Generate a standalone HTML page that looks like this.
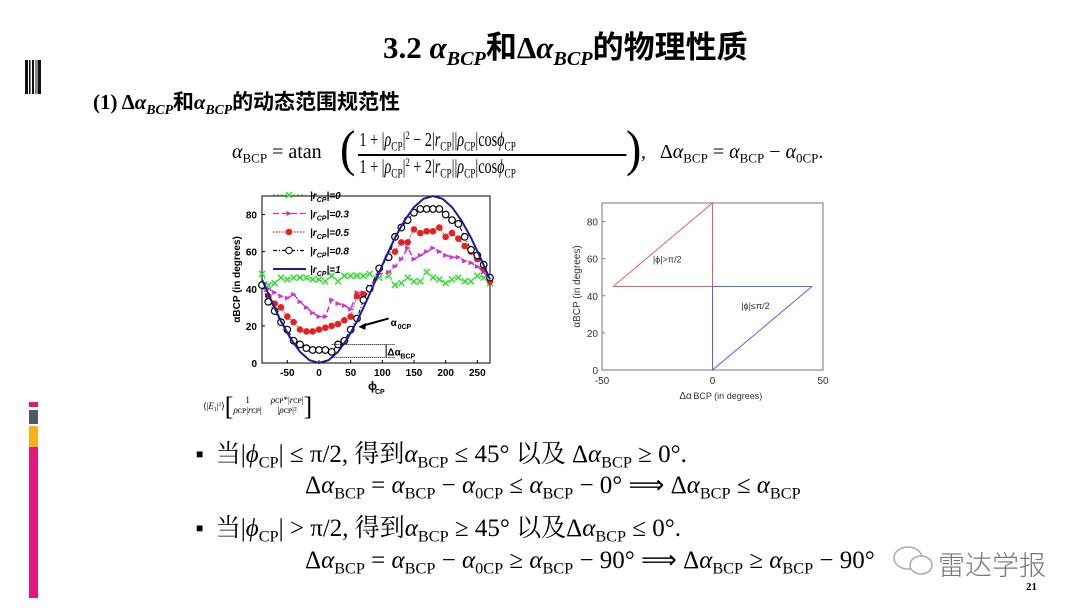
<!DOCTYPE html>
<html><head><meta charset="utf-8">
<style>
body{margin:0;background:#fff;}
#slide{position:relative;width:1080px;height:608px;overflow:hidden;background:#fff;font-family:"Liberation Serif","Noto Serif CJK SC",serif;color:#000;}
.t{position:absolute;white-space:nowrap;}
i{font-style:italic;}
sub{font-size:65%;vertical-align:-0.35em;}
sup{font-size:60%;vertical-align:0.6em;}
</style></head>
<body>
<div id="slide">
<svg style="position:absolute;left:25px;top:60px" width="17" height="34">
<rect x="0" y="0" width="3" height="34" fill="#111"/><rect x="4" y="0" width="1.5" height="34" fill="#111"/><rect x="7" y="0" width="2" height="34" fill="#111"/><rect x="10.5" y="0" width="1" height="34" fill="#111"/><rect x="12.5" y="0" width="3.5" height="34" fill="#111"/>
</svg>
<div style="position:absolute;left:29px;top:402px;width:9px;height:196px;">
<div style="height:5px;background:#e0197a"></div><div style="height:3px"></div><div style="height:14px;background:#4b5a66"></div><div style="height:2px"></div><div style="height:21px;background:#f0b417"></div><div style="height:151px;background:#e0197a"></div>
</div>

<div class="t" style="left:383px;top:22px;font-size:31px;font-weight:bold;font-family:'Liberation Serif','Noto Sans CJK SC',serif;">3.2 <i>α<sub>BCP</sub></i>和Δ<i>α<sub>BCP</sub></i>的物理性质</div>
<div class="t" style="left:93px;top:86px;font-size:21px;font-weight:bold;font-family:'Liberation Serif','Noto Sans CJK SC',serif;">(1) Δ<i>α<sub>BCP</sub></i>和<i>α<sub>BCP</sub></i>的动态范围规范性</div>

<div class="t" style="left:232px;top:128px;font-size:20px;height:50px;">
<span style="position:absolute;left:0;top:13px"><i>α</i><sub>BCP</sub> = atan</span>
<span style="position:absolute;left:108px;top:-6px;font-size:46px;transform:scaleY(1.1)">(</span>
<div style="position:absolute;left:126px;top:0;width:378px;height:50px;transform:scaleX(0.71);transform-origin:0 0;">
<span style="position:absolute;left:2px;top:0px">1 + |<i>ρ</i><sub>CP</sub>|<sup>2</sup> − 2|<i>r</i><sub>CP</sub>||<i>ρ</i><sub>CP</sub>|cos<i>ϕ</i><sub>CP</sub></span>
<span style="position:absolute;left:0;top:26px;width:378px;height:2px;background:#000"></span>
<span style="position:absolute;left:2px;top:27px">1 + |<i>ρ</i><sub>CP</sub>|<sup>2</sup> + 2|<i>r</i><sub>CP</sub>||<i>ρ</i><sub>CP</sub>|cos<i>ϕ</i><sub>CP</sub></span>
</div>
<span style="position:absolute;left:394px;top:-6px;font-size:46px;transform:scaleY(1.1)">)</span>
<span style="position:absolute;left:409px;top:13px">,&nbsp;&nbsp; Δ<i>α</i><sub>BCP</sub> = <i>α</i><sub>BCP</sub> − <i>α</i><sub>0CP</sub>.</span>
</div>

<svg id="charts" style="position:absolute;left:0;top:0" width="1080" height="608" font-family="Liberation Sans, sans-serif"></svg>

<div class="t" style="left:203px;top:392px;font-size:9px;">⟨|<i>E</i><sub>1</sub>|<sup>2</sup>⟩<span style="font-size:26px;vertical-align:-6px">[</span><span style="display:inline-block;text-align:center;vertical-align:-4px;line-height:10px">1<br><i>ρ</i>ᴄᴘ|<i>r</i>ᴄᴘ|</span>&nbsp;&nbsp;&nbsp;&nbsp;<span style="display:inline-block;text-align:center;vertical-align:-4px;line-height:10px"><i>ρ</i>ᴄᴘ*|<i>r</i>ᴄᴘ|<br>|<i>ρ</i>ᴄᴘ|²</span><span style="font-size:26px;vertical-align:-6px">]</span></div>

<div class="t" style="left:196px;top:434px;font-size:25px;font-family:'Liberation Serif','Noto Serif CJK SC',serif;"><span style="font-size:12px;vertical-align:4px">■</span>&nbsp; 当|<i>ϕ</i><sub>CP</sub>| ≤ π/2, 得到<i>α</i><sub>BCP</sub> ≤ 45° 以及 Δ<i>α</i><sub>BCP</sub> ≥ 0°.</div>
<div class="t" style="left:305px;top:470px;font-size:25px;">Δ<i>α</i><sub>BCP</sub> = <i>α</i><sub>BCP</sub> − <i>α</i><sub>0CP</sub> ≤ <i>α</i><sub>BCP</sub> − 0° ⟹ Δ<i>α</i><sub>BCP</sub> ≤ <i>α</i><sub>BCP</sub></div>
<div class="t" style="left:196px;top:508px;font-size:25px;font-family:'Liberation Serif','Noto Serif CJK SC',serif;"><span style="font-size:12px;vertical-align:4px">■</span>&nbsp; 当|<i>ϕ</i><sub>CP</sub>| &gt; π/2, 得到<i>α</i><sub>BCP</sub> ≥ 45° 以及Δ<i>α</i><sub>BCP</sub> ≤ 0°.</div>
<div class="t" style="left:305px;top:545px;font-size:25px;">Δ<i>α</i><sub>BCP</sub> = <i>α</i><sub>BCP</sub> − <i>α</i><sub>0CP</sub> ≥ <i>α</i><sub>BCP</sub> − 90° ⟹ Δ<i>α</i><sub>BCP</sub> ≥ <i>α</i><sub>BCP</sub> − 90°</div>

<svg style="position:absolute;left:892px;top:545px" width="44" height="32">
<ellipse cx="16" cy="13" rx="14" ry="11" fill="none" stroke="#aaa" stroke-width="1.5"/>
<ellipse cx="29" cy="20" rx="11" ry="9" fill="#fff" stroke="#aaa" stroke-width="1.5"/>
</svg>
<div class="t" style="left:938px;top:544px;font-size:27px;color:#777;font-family:'Noto Sans CJK SC',sans-serif;font-weight:300;">雷达学报</div>
<div class="t" style="left:1026px;top:581px;font-size:11px;font-weight:bold;">21</div>
</div>

<script>
const phiX=[-90,-80,-70,-60,-50,-40,-30,-20,-10,0,10,20,30,40,50,60,70,80,95,110,120,130,140,150,160,170,180,190,200,210,220,230,240,250,260,270];
const r0=[48,42,43,46,45,46,46,46,45,45,44,47,44,47,47,47,47,48,46,47,42,43,46,44,44,49,46,45,43,45,46,44,44,47,46,43];
const r03=[42,40,38,36,35,37,33,30,27,25,25,34,32,31,29,38,38,41,48,49,52,56,62,56,58,60,62,60,58,57,57,55,54,52,49,45];
const r05=[42,36,32,30,25,22,18,17,17,18,19,20,21,23,25,36,37,40,51,57,60,65,65,72,70,71,71,73,68,70,67,63,60,56,51,44];
const r08=[42,33,28,22,18,12,10,8,7,7,7,6,10,12,18,24,34,40,51,57,68,73,77,81,83,83,83,83,80,77,75,68,61,58,53,46];
const r1X=[-90,-75,-60,-45,-30,-15,0,15,30,45,60,75,90,105,120,135,150,165,180,195,210,225,240,255,270];
const r1=[45,33.4,22.5,13.2,6,1.5,0,1.5,6,13.2,22.5,33.4,45,56.6,67.5,76.8,84,88.5,90,88.5,84,76.8,67.5,56.6,45];
const leftXTicks=[-50,0,50,100,150,200,250];
const leftYTicks=[0,20,40,60,80];
const legendLabels=["=0","=0.3","=0.5","=0.8","=1"];
const rightXTicks=[-50,0,50];
const rightYTicks=[0,20,40,60,80];
const redX=[-45,0,0,-45];const redY=[45,90,45,45];
const blueX=[45,0,0,45];const blueY=[45,0,45,45];

const NS="http://www.w3.org/2000/svg";
const svg=document.getElementById('charts');
function mk(tag,attrs,parent){const e=document.createElementNS(NS,tag);for(const k in attrs)e.setAttribute(k,attrs[k]);(parent||svg).appendChild(e);return e;}
function txt(s,x,y,attrs,parent){const e=mk('text',Object.assign({x:x,y:y},attrs),parent);e.textContent=s;return e;}

// left chart
const L={x0:262,x1:490,y0:363,y1:196};
const lx=v=>L.x0+(v+90)/360*(L.x1-L.x0);
const ly=v=>L.y0-v/90*(L.y0-L.y1);
const gl=mk('g',{});


mk('rect',{x:L.x0,y:L.y1,width:L.x1-L.x0,height:L.y0-L.y1,fill:'none',stroke:'#000','stroke-width':1},gl);
leftXTicks.forEach(t=>{mk('line',{x1:lx(t),x2:lx(t),y1:L.y0,y2:L.y0-3,stroke:'#000'},gl);const e=txt(t,lx(t),L.y0+13,{'font-size':10,'font-weight':'bold','text-anchor':'middle'},gl);});
leftYTicks.forEach(t=>{mk('line',{x1:L.x0,x2:L.x0+3,y1:ly(t),y2:ly(t),stroke:'#000'},gl);const e=txt(t,L.x0-5,ly(t)+4,{'font-size':10,'font-weight':'bold','text-anchor':'end'},gl);});
const xt=txt('ϕ',lx(90)-8,L.y0+27,{'font-size':12,'font-weight':'bold'},gl);

txt('CP',lx(90)-1,L.y0+31,{'font-size':7,'font-weight':'bold'},gl);
const yt=txt('αBCP (in degrees)',0,0,{'font-size':10,'font-weight':'bold','text-anchor':'middle',transform:`translate(${L.x0-22},${ly(45)}) rotate(-90)`},gl);


function poly(xs,ys,style,name){const p=mk('polyline',Object.assign({points:xs.map((v,i)=>lx(v)+','+ly(ys[i])).join(' '),fill:'none'},style),gl);return p;}
function markers(xs,ys,type,color,name){const g=mk('g',{},gl);xs.forEach((v,i)=>{const x=lx(v),y=ly(ys[i]);
 if(type==='x'){mk('path',{d:`M${x-3},${y-3}L${x+3},${y+3}M${x-3},${y+3}L${x+3},${y-3}`,stroke:color,'stroke-width':1.5},g);}
 else if(type==='tri'){mk('path',{d:`M${x+3},${y}L${x-2.5},${y-2.5}L${x-2.5},${y+2.5}Z`,fill:color},g);}
 else if(type==='dot'){mk('circle',{cx:x,cy:y,r:3.3,fill:color},g);}
 else {mk('circle',{cx:x,cy:y,r:3.3,fill:'#fff',stroke:'#000','stroke-width':1.2},g);}});}
poly(phiX,r0,{stroke:'#33dd33','stroke-width':1,'stroke-dasharray':'2,2'},'series-r0-line');markers(phiX,r0,'x','#33dd33','series-r0-markers');
poly(phiX,r03,{stroke:'#cc33cc','stroke-width':1.5,'stroke-dasharray':'6,3'},'series-r03-line');markers(phiX,r03,'tri','#cc33cc','series-r03-markers');
poly(phiX,r05,{stroke:'#e02020','stroke-width':1,'stroke-dasharray':'1.5,1.5'},'series-r05-line');markers(phiX,r05,'dot','#e82020','series-r05-markers');
poly(phiX,r08,{stroke:'#000','stroke-width':1,'stroke-dasharray':'4,2,1,2'},'series-r08-line');markers(phiX,r08,'o','#000','series-r08-markers');
poly(r1X,r1,{stroke:'#1a1aa0','stroke-width':2},'series-r1-line');

// legend
const lg=mk('g',{},gl);
const legTypes=[['x','#33dd33','2,2'],['tri','#cc33cc','6,3'],['dot','#e82020','1.5,1.5'],['o','#000','4,2,1,2'],['line','#1a1aa0','']];
legendLabels.forEach((lab,i)=>{const y=195+i*18.5,x=273;const [tp,c,d]=legTypes[i];
 const ge=mk('g',{},lg);
 mk('line',{x1:x,x2:x+33,y1:y,y2:y,stroke:c,'stroke-width':tp==='line'?2:1.3,'stroke-dasharray':d},ge);
 const cx=x+16;
 if(tp==='x')mk('path',{d:`M${cx-3},${y-3}L${cx+3},${y+3}M${cx-3},${y+3}L${cx+3},${y-3}`,stroke:c,'stroke-width':1.5},ge);
 if(tp==='tri')mk('path',{d:`M${cx+3},${y}L${cx-2.5},${y-2.5}L${cx-2.5},${y+2.5}Z`,fill:c},ge);
 if(tp==='dot')mk('circle',{cx:cx,cy:y,r:3.3,fill:c},ge);
 if(tp==='o')mk('circle',{cx:cx,cy:y,r:3.3,fill:'#fff',stroke:'#000'},ge);
 const t=mk('text',{x:x+37,y:y+4,'font-size':10,'font-weight':'bold','font-style':'italic'},ge);
 t.innerHTML='|r<tspan font-size="7" dy="3">CP</tspan><tspan dy="-3">|'+lab+'</tspan>';});
// annotations
mk('line',{x1:lx(110),y1:ly(24),x2:lx(68),y2:ly(20),stroke:'#000','stroke-width':2},gl);
mk('path',{d:`M${lx(62)},${ly(19.5)}l8,-4l-1,7z`,fill:'#000'},gl);
txt('α',lx(113),ly(20),{'font-size':10,'font-weight':'bold'},gl);txt('0CP',lx(113)+7,ly(20)+3,{'font-size':7,'font-weight':'bold'},gl);
mk('line',{x1:lx(20),x2:lx(120),y1:ly(10),y2:ly(10),stroke:'#000','stroke-dasharray':'1,1'},gl);
mk('line',{x1:lx(20),x2:lx(120),y1:ly(3),y2:ly(3),stroke:'#000','stroke-dasharray':'1,1'},gl);
mk('line',{x1:lx(106),x2:lx(106),y1:ly(10),y2:ly(3),stroke:'#000'},gl);
txt('Δα',lx(108),ly(4),{'font-size':10,'font-weight':'bold'},gl);txt('BCP',lx(108)+13,ly(4)+3,{'font-size':7,'font-weight':'bold'},gl);

// right chart
const R={x0:602,x1:823,y0:370,y1:203};
const rx=v=>R.x0+(v+50)/100*(R.x1-R.x0);
const ry=v=>R.y0-v/90*(R.y0-R.y1);
const gr=mk('g',{});


mk('rect',{x:R.x0,y:R.y1,width:R.x1-R.x0,height:R.y0-R.y1,fill:'none',stroke:'#777','stroke-width':1},gr);
rightXTicks.forEach(t=>{mk('line',{x1:rx(t),x2:rx(t),y1:R.y0,y2:R.y0-3,stroke:'#777'},gr);const e=txt(t,rx(t),R.y0+14,{'font-size':10,fill:'#333','text-anchor':'middle'},gr);});
rightYTicks.forEach(t=>{mk('line',{x1:R.x0,x2:R.x0+3,y1:ry(t),y2:ry(t),stroke:'#777'},gr);const e=txt(t,R.x0-4,ry(t)+4,{'font-size':10,fill:'#333','text-anchor':'end'},gr);});
const rp=mk('polyline',{points:redX.map((v,i)=>rx(v)+','+ry(redY[i])).join(' '),fill:'none',stroke:'#e06060','stroke-width':1},gr);

const bp=mk('polyline',{points:blueX.map((v,i)=>rx(v)+','+ry(blueY[i])).join(' '),fill:'none',stroke:'#6060e0','stroke-width':1},gr);

txt('|ϕ|>π/2',rx(-27),ry(60)+4,{'font-size':9,fill:'#333'},gr);
txt('|ϕ|≤π/2',rx(13),ry(35)+4,{'font-size':9,fill:'#333'},gr);
const rxt=txt('Δα',rx(-15),R.y0+29,{'font-size':10,fill:'#333'},gr);
txt('BCP (in degrees)',rx(-15)+14,R.y0+29,{'font-size':9,fill:'#333'},gr);
const ryt=txt('αBCP (in degrees)',0,0,{'font-size':10,fill:'#333','text-anchor':'middle',transform:`translate(${R.x0-22},${ry(45)}) rotate(-90)`},gr);

</script>
</body></html>
